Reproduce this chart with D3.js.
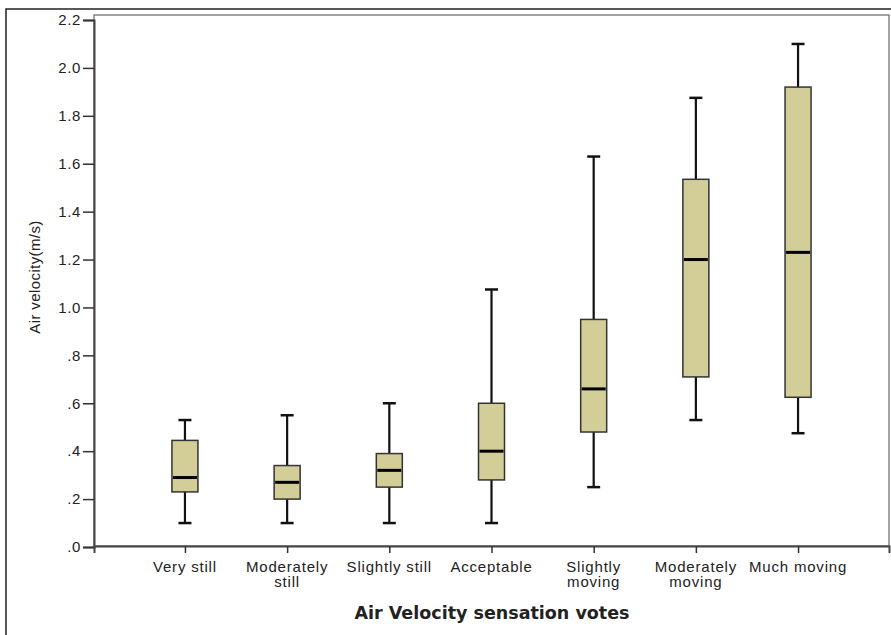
<!DOCTYPE html>
<html>
<head>
<meta charset="utf-8">
<script src="https://cdn.jsdelivr.net/npm/d3@7"></script>
<style>
  body { margin: 0; background: #fff; }
  text { font-family: "Liberation Sans", Arial, sans-serif; fill: #222; }
</style>
</head>
<body>
<div id="wrapper"></div>
<script>
// categories and five-number summaries
const categories = ["Very still", "Moderately still", "Slightly still", "Acceptable",
                    "Slightly moving", "Moderately moving", "Much moving"];
const labelLines = [["Very still"], ["Moderately", "still"], ["Slightly still"], ["Acceptable"],
                    ["Slightly", "moving"], ["Moderately", "moving"], ["Much moving"]];
const mins    = [0.10, 0.10, 0.10, 0.10, 0.25, 0.53, 0.475];
const q1s     = [0.23, 0.20, 0.25, 0.28, 0.48, 0.71, 0.625];
const medians = [0.29, 0.27, 0.32, 0.40, 0.66, 1.20, 1.23];
const q3s     = [0.445, 0.34, 0.39, 0.60, 0.95, 1.535, 1.92];
const maxs    = [0.53, 0.55, 0.60, 1.075, 1.63, 1.875, 2.10];
const yTicks  = [0, 0.2, 0.4, 0.6, 0.8, 1.0, 1.2, 1.4, 1.6, 1.8, 2.0, 2.2];

function buildPlot() {
    const width = 891, height = 635;
    const plot = { left: 94, right: 889, top: 15, bottom: 546 };

    const data = categories.map((c, i) => ({
        cat: c, lines: labelLines[i],
        min: mins[i], q1: q1s[i], med: medians[i], q3: q3s[i], max: maxs[i]
    }));

    const svg = d3.select("#wrapper").append("svg")
        .attr("width", width)
        .attr("height", height);

    // outer frame
    svg.append("rect")
        .attr("x", 6).attr("y", 9)
        .attr("width", 900).attr("height", 700)
        .attr("fill", "none").attr("stroke", "#222").attr("stroke-width", 1.5);

    const xScaler = d3.scalePoint()
        .domain(categories)
        .range([plot.left, plot.right])
        .padding(0.89);

    const yScaler = d3.scaleLinear()
        .domain([0, 2.2])
        .range([plot.bottom + 1, plot.top + 5]);

    // plot frame
    svg.append("rect")
        .attr("x", plot.left).attr("y", plot.top)
        .attr("width", plot.right - plot.left).attr("height", plot.bottom - plot.top)
        .attr("fill", "none").attr("stroke", "#666").attr("stroke-width", 1.2);

    const yAxis = d3.axisLeft(yScaler)
        .tickValues(yTicks)
        .tickSize(11)
        .tickPadding(2)
        .tickFormat(d => d3.format(".1f")(d).replace(/^0/, ""));

    const gy = svg.append("g")
        .attr("transform", `translate(${plot.left},0)`)
        .call(yAxis);
    gy.select(".domain").attr("stroke", "#444").attr("stroke-width", 2);
    gy.selectAll(".tick line").attr("stroke", "#333").attr("stroke-width", 1.5);
    gy.selectAll(".tick text")
        .style("font-family", "Liberation Sans, Arial, sans-serif")
        .style("font-size", "15px").style("letter-spacing", "0.6px").attr("fill", "#333");

    const xAxis = d3.axisBottom(xScaler).tickSize(7).tickFormat("");
    const gx = svg.append("g")
        .attr("transform", `translate(0,${plot.bottom})`)
        .call(xAxis);
    gx.select(".domain").attr("stroke", "#444").attr("stroke-width", 2);
    gx.selectAll(".tick line").attr("stroke", "#333").attr("stroke-width", 1.5);

    // multi-line category labels
    svg.append("g").selectAll("text")
        .data(data)
        .join("text")
        .attr("x", d => xScaler(d.cat))
        .attr("y", 572)
        .attr("text-anchor", "middle")
        .style("font-size", "15px").style("letter-spacing", "0.8px")
        .attr("fill", "#222")
        .selectAll("tspan")
        .data(d => d.lines)
        .join("tspan")
        .attr("x", function () { return d3.select(this.parentNode).attr("x"); })
        .attr("dy", (d, i) => i === 0 ? 0 : 15)
        .text(d => d);

    // boxes
    const boxW = 26, capW = 13;
    const g = svg.append("g").selectAll("g")
        .data(data)
        .join("g")
        .attr("transform", d => `translate(${xScaler(d.cat)},0)`);

    g.append("line")
        .attr("x1", 0).attr("x2", 0)
        .attr("y1", d => yScaler(d.min)).attr("y2", d => yScaler(d.max))
        .attr("stroke", "#111").attr("stroke-width", 2.2);

    g.selectAll(".cap")
        .data(d => [d.min, d.max])
        .join("line")
        .attr("class", "cap")
        .attr("x1", -capW / 2).attr("x2", capW / 2)
        .attr("y1", v => yScaler(v)).attr("y2", v => yScaler(v))
        .attr("stroke", "#111").attr("stroke-width", 2.5);

    g.append("rect")
        .attr("x", -boxW / 2)
        .attr("y", d => yScaler(d.q3))
        .attr("width", boxW)
        .attr("height", d => yScaler(d.q1) - yScaler(d.q3))
        .attr("fill", "#d3ce98")
        .attr("stroke", "#333").attr("stroke-width", 1.5);

    g.append("line")
        .attr("x1", -boxW / 2 + 1).attr("x2", boxW / 2 - 1)
        .attr("y1", d => yScaler(d.med)).attr("y2", d => yScaler(d.med))
        .attr("stroke", "#000").attr("stroke-width", 3);

    // axis titles
    svg.append("text")
        .attr("transform", "translate(40,277) rotate(-90)")
        .attr("text-anchor", "middle")
        .style("font-size", "15px").style("letter-spacing", "0.4px")
        .attr("fill", "#222")
        .text("Air velocity(m/s)");

    svg.append("text")
        .attr("x", 492).attr("y", 619)
        .attr("text-anchor", "middle")
        .style("font-family", "DejaVu Sans, sans-serif")
        .style("font-weight", "bold")
        .style("font-size", "17.5px")
        .attr("fill", "#111")
        .text("Air Velocity sensation votes");
}

buildPlot();
</script>
</body>
</html>
